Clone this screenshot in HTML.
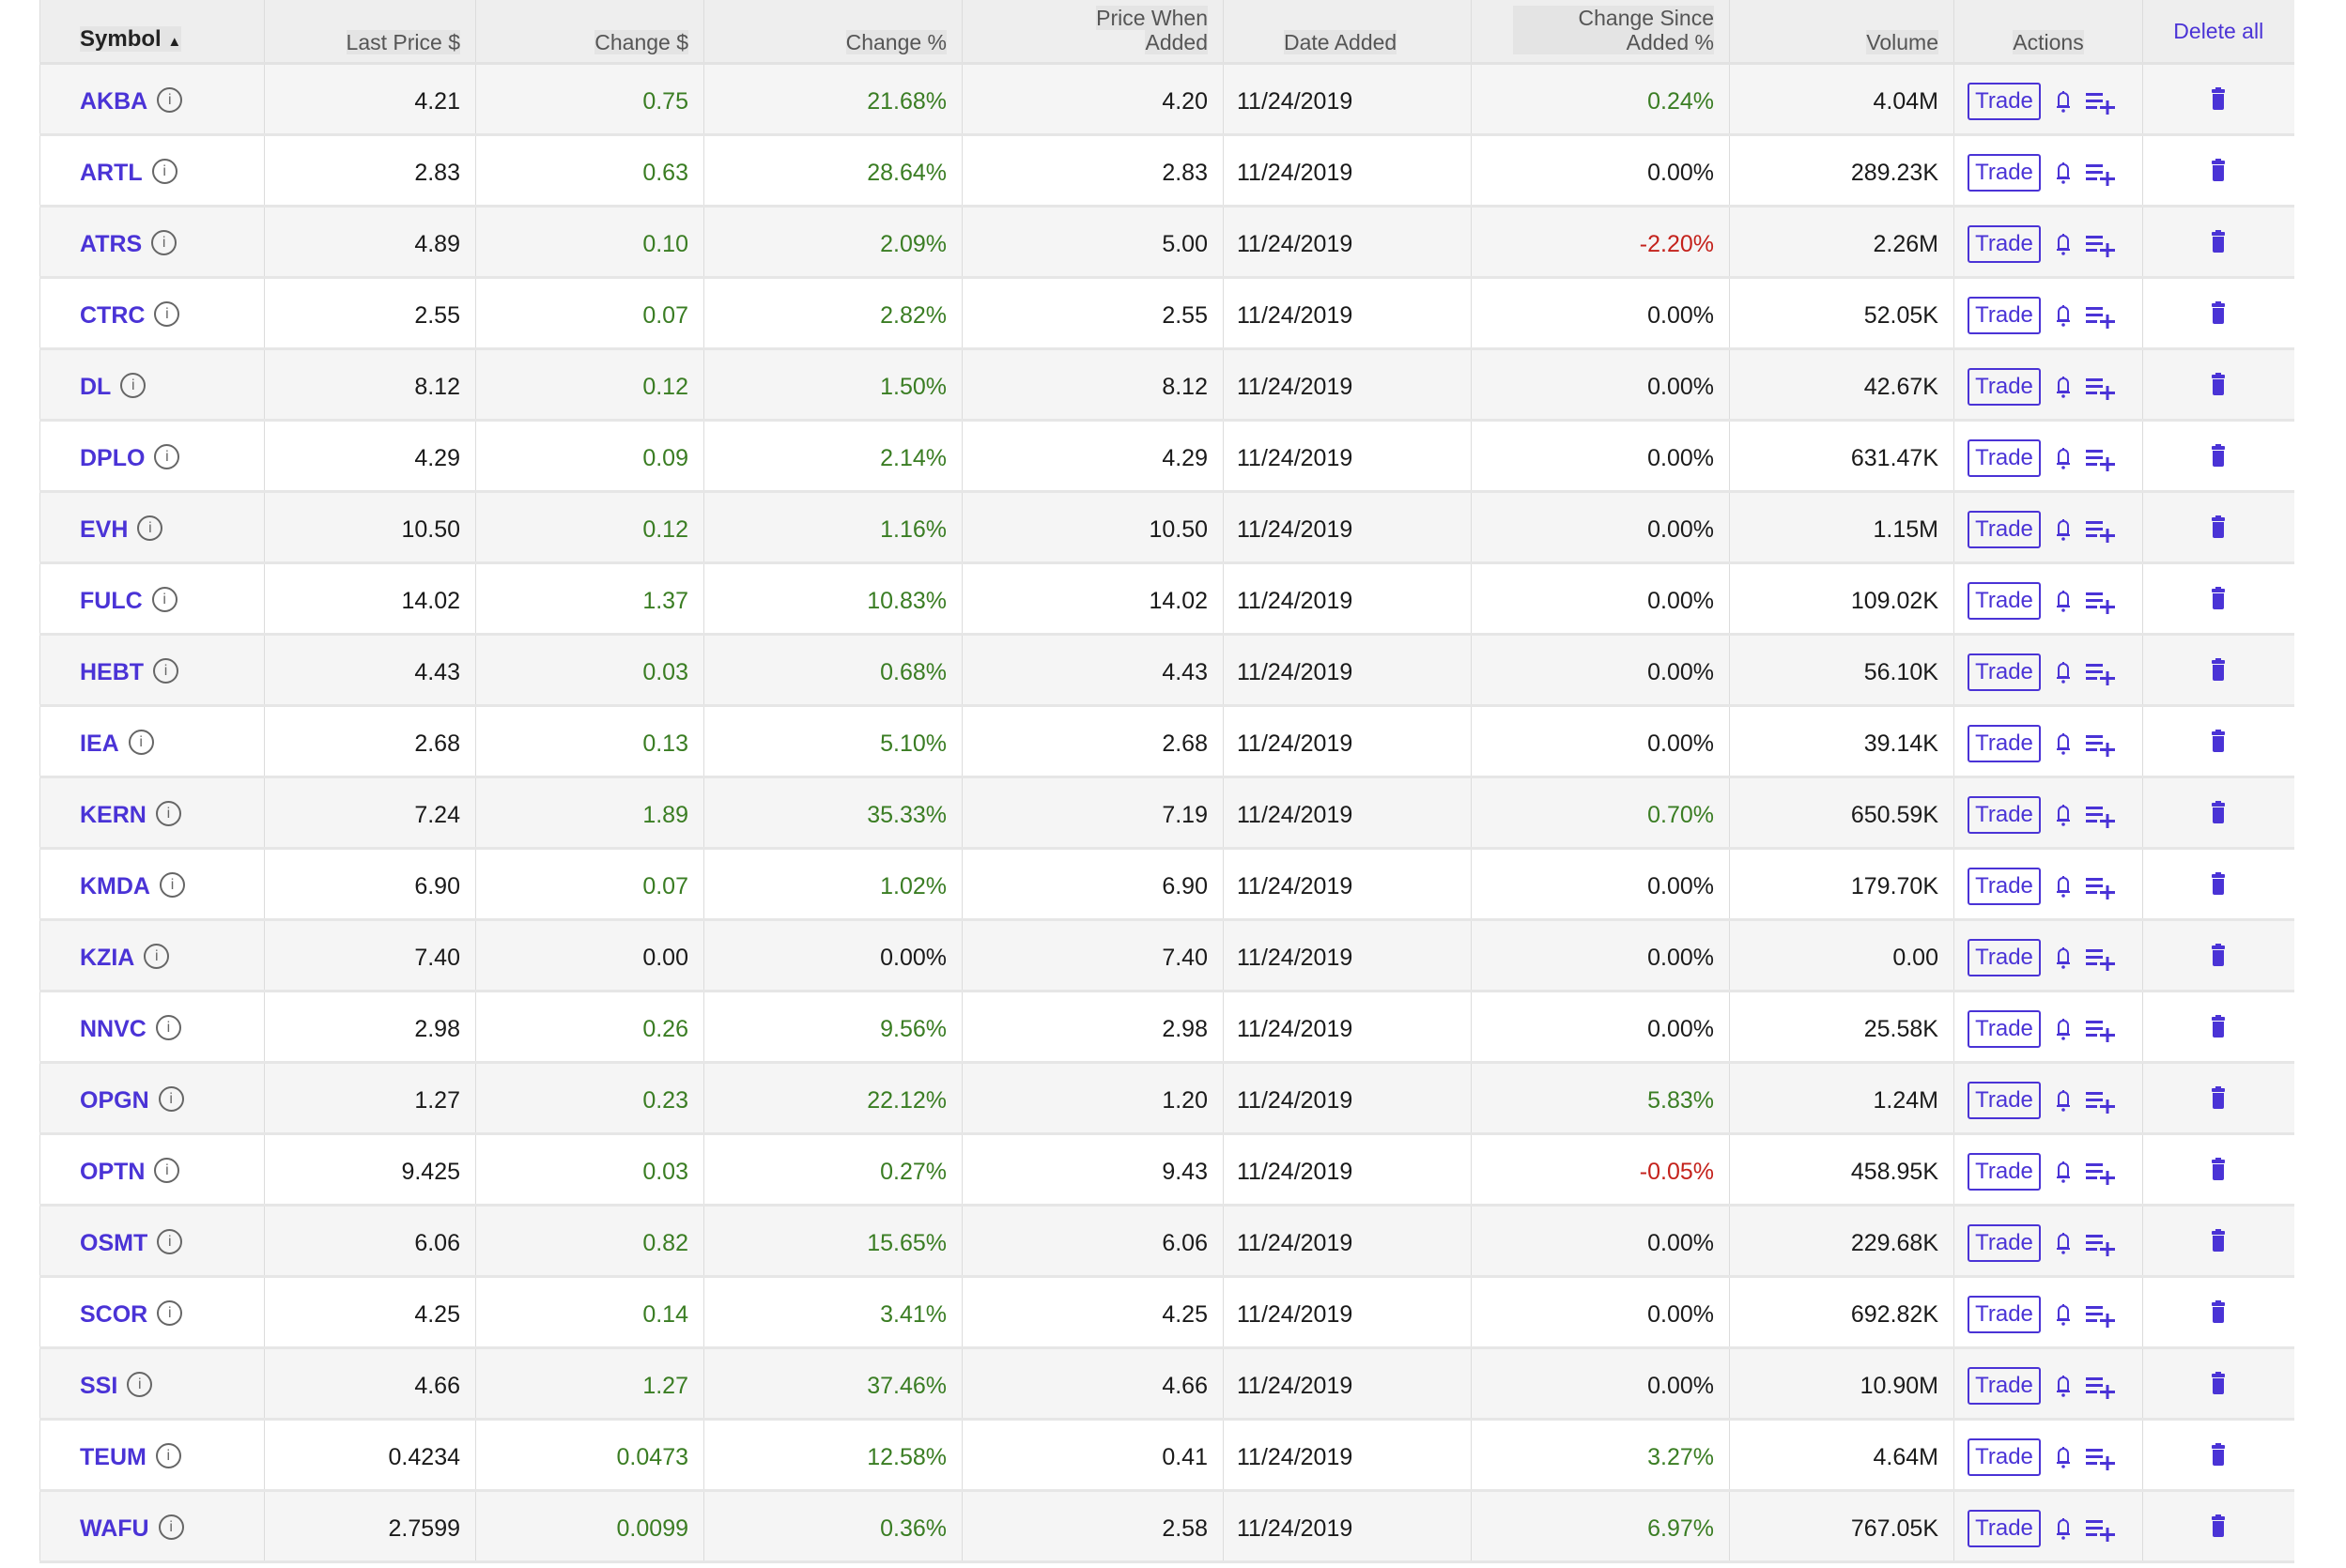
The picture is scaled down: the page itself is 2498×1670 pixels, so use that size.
<!DOCTYPE html>
<html><head><meta charset="utf-8"><style>
html,body{margin:0;padding:0;background:#fff;width:2498px;height:1670px;overflow:hidden}
body{font-family:"Liberation Sans",sans-serif;color:#1a1a1a}
table{position:absolute;left:42px;top:0;border-collapse:collapse;table-layout:fixed;width:2400px}
td,th{padding:0 16px;border-left:1px solid #dcdcdc;font-size:25px;white-space:nowrap;box-sizing:border-box}
th{background:#eeeeee;height:67px;font-weight:normal;color:#555;font-size:23px;text-align:right;vertical-align:bottom;padding-bottom:8px;padding-top:0;line-height:26px}
th span{background:#e4e4e4}
th.sym{text-align:left;padding-left:42px;color:#222;font-weight:bold;font-size:24px}
thead tr{border-bottom:3px solid #e2e2e2}
tbody tr{height:76px;border-bottom:3px solid #e6e6e6}
tbody td{height:76px;padding-top:6px}
tbody tr:nth-child(odd){background:#f5f5f5}
td{text-align:right}
td.s{text-align:left;padding-left:42px;color:#4a33d6;font-weight:bold}
td.d{text-align:left;padding-left:14px}
.g{color:#3a7d23}.r{color:#c4221c}
.i{display:inline-block;width:23px;height:23px;border:2px solid #666;border-radius:50%;font-size:16px;line-height:23px;text-align:center;color:#666;font-weight:normal;margin-left:10px;vertical-align:middle;margin-top:-4px}
.a{text-align:left;padding-left:14px}
.t{display:inline-block;width:74px;height:36px;border:2px solid #4a33d6;border-radius:3px;color:#4a33d6;text-align:center;line-height:36px;font-size:24px;vertical-align:middle}
.b{display:inline-block;vertical-align:middle;margin-left:14px}
.q{display:inline-block;vertical-align:middle;margin-left:12px}
td.x{text-align:center}
</style></head><body>
<svg width="0" height="0" style="position:absolute"><defs>
<symbol id="bell" viewBox="0 0 20 30"><path d="M5 20 V11 a5 5 0 0 1 10 0 V20 Z M3 21 H17" fill="none" stroke="#4a33d6" stroke-width="2"/><circle cx="10" cy="25" r="1.8" fill="#4a33d6"/><rect x="9" y="4" width="2" height="3" fill="#4a33d6"/></symbol>
<symbol id="ql" viewBox="0 0 36 30"><rect x="2" y="6" width="18" height="3" fill="#4a33d6"/><rect x="2" y="13" width="18" height="3" fill="#4a33d6"/><rect x="2" y="20" width="12" height="3" fill="#4a33d6"/><rect x="17" y="20" width="16" height="3" fill="#4a33d6"/><rect x="23.5" y="14" width="3" height="15" fill="#4a33d6"/></symbol>
<symbol id="tr" viewBox="0 0 20 30"><rect x="3" y="5" width="14" height="4" rx="1" fill="#4a33d6"/><rect x="7" y="3" width="6" height="3" fill="#4a33d6"/><path d="M4 10 H16 V25 a2 2 0 0 1 -2 2 H6 a2 2 0 0 1 -2 -2 Z" fill="#4a33d6"/></symbol>
</defs></svg>
<table>
<colgroup><col style="width:239px"><col style="width:225px"><col style="width:243px"><col style="width:275px"><col style="width:278px"><col style="width:264px"><col style="width:275px"><col style="width:239px"><col style="width:201px"><col style="width:161px"></colgroup>
<thead><tr>
<th class="sym"><span>Symbol&nbsp;<span style="font-size:15px">▲</span></span></th>
<th><span>Last Price $</span></th><th><span>Change $</span></th><th><span>Change %</span></th>
<th><span>Price When<br>Added</span></th>
<th style="text-align:left;padding-left:64px"><span>Date Added</span></th>
<th><span style="display:inline-block;padding-left:70px">Change Since<br>Added %</span></th>
<th><span>Volume</span></th>
<th style="text-align:center"><span>Actions</span></th>
<th style="text-align:center;vertical-align:top;padding-top:20px;color:#4a33d6">Delete all</th>
</tr></thead>
<tbody>
<tr><td class="s">AKBA<span class="i">i</span></td><td>4.21</td><td class="g">0.75</td><td class="g">21.68%</td><td>4.20</td><td class="d">11/24/2019</td><td class="g">0.24%</td><td>4.04M</td><td class="a"><span class="t">Trade</span><svg class="b" width="20" height="30"><use href="#bell"/></svg><svg class="q" width="36" height="30"><use href="#ql"/></svg></td><td class="x"><svg width="20" height="30"><use href="#tr"/></svg></td></tr>
<tr><td class="s">ARTL<span class="i">i</span></td><td>2.83</td><td class="g">0.63</td><td class="g">28.64%</td><td>2.83</td><td class="d">11/24/2019</td><td>0.00%</td><td>289.23K</td><td class="a"><span class="t">Trade</span><svg class="b" width="20" height="30"><use href="#bell"/></svg><svg class="q" width="36" height="30"><use href="#ql"/></svg></td><td class="x"><svg width="20" height="30"><use href="#tr"/></svg></td></tr>
<tr><td class="s">ATRS<span class="i">i</span></td><td>4.89</td><td class="g">0.10</td><td class="g">2.09%</td><td>5.00</td><td class="d">11/24/2019</td><td class="r">-2.20%</td><td>2.26M</td><td class="a"><span class="t">Trade</span><svg class="b" width="20" height="30"><use href="#bell"/></svg><svg class="q" width="36" height="30"><use href="#ql"/></svg></td><td class="x"><svg width="20" height="30"><use href="#tr"/></svg></td></tr>
<tr><td class="s">CTRC<span class="i">i</span></td><td>2.55</td><td class="g">0.07</td><td class="g">2.82%</td><td>2.55</td><td class="d">11/24/2019</td><td>0.00%</td><td>52.05K</td><td class="a"><span class="t">Trade</span><svg class="b" width="20" height="30"><use href="#bell"/></svg><svg class="q" width="36" height="30"><use href="#ql"/></svg></td><td class="x"><svg width="20" height="30"><use href="#tr"/></svg></td></tr>
<tr><td class="s">DL<span class="i">i</span></td><td>8.12</td><td class="g">0.12</td><td class="g">1.50%</td><td>8.12</td><td class="d">11/24/2019</td><td>0.00%</td><td>42.67K</td><td class="a"><span class="t">Trade</span><svg class="b" width="20" height="30"><use href="#bell"/></svg><svg class="q" width="36" height="30"><use href="#ql"/></svg></td><td class="x"><svg width="20" height="30"><use href="#tr"/></svg></td></tr>
<tr><td class="s">DPLO<span class="i">i</span></td><td>4.29</td><td class="g">0.09</td><td class="g">2.14%</td><td>4.29</td><td class="d">11/24/2019</td><td>0.00%</td><td>631.47K</td><td class="a"><span class="t">Trade</span><svg class="b" width="20" height="30"><use href="#bell"/></svg><svg class="q" width="36" height="30"><use href="#ql"/></svg></td><td class="x"><svg width="20" height="30"><use href="#tr"/></svg></td></tr>
<tr><td class="s">EVH<span class="i">i</span></td><td>10.50</td><td class="g">0.12</td><td class="g">1.16%</td><td>10.50</td><td class="d">11/24/2019</td><td>0.00%</td><td>1.15M</td><td class="a"><span class="t">Trade</span><svg class="b" width="20" height="30"><use href="#bell"/></svg><svg class="q" width="36" height="30"><use href="#ql"/></svg></td><td class="x"><svg width="20" height="30"><use href="#tr"/></svg></td></tr>
<tr><td class="s">FULC<span class="i">i</span></td><td>14.02</td><td class="g">1.37</td><td class="g">10.83%</td><td>14.02</td><td class="d">11/24/2019</td><td>0.00%</td><td>109.02K</td><td class="a"><span class="t">Trade</span><svg class="b" width="20" height="30"><use href="#bell"/></svg><svg class="q" width="36" height="30"><use href="#ql"/></svg></td><td class="x"><svg width="20" height="30"><use href="#tr"/></svg></td></tr>
<tr><td class="s">HEBT<span class="i">i</span></td><td>4.43</td><td class="g">0.03</td><td class="g">0.68%</td><td>4.43</td><td class="d">11/24/2019</td><td>0.00%</td><td>56.10K</td><td class="a"><span class="t">Trade</span><svg class="b" width="20" height="30"><use href="#bell"/></svg><svg class="q" width="36" height="30"><use href="#ql"/></svg></td><td class="x"><svg width="20" height="30"><use href="#tr"/></svg></td></tr>
<tr><td class="s">IEA<span class="i">i</span></td><td>2.68</td><td class="g">0.13</td><td class="g">5.10%</td><td>2.68</td><td class="d">11/24/2019</td><td>0.00%</td><td>39.14K</td><td class="a"><span class="t">Trade</span><svg class="b" width="20" height="30"><use href="#bell"/></svg><svg class="q" width="36" height="30"><use href="#ql"/></svg></td><td class="x"><svg width="20" height="30"><use href="#tr"/></svg></td></tr>
<tr><td class="s">KERN<span class="i">i</span></td><td>7.24</td><td class="g">1.89</td><td class="g">35.33%</td><td>7.19</td><td class="d">11/24/2019</td><td class="g">0.70%</td><td>650.59K</td><td class="a"><span class="t">Trade</span><svg class="b" width="20" height="30"><use href="#bell"/></svg><svg class="q" width="36" height="30"><use href="#ql"/></svg></td><td class="x"><svg width="20" height="30"><use href="#tr"/></svg></td></tr>
<tr><td class="s">KMDA<span class="i">i</span></td><td>6.90</td><td class="g">0.07</td><td class="g">1.02%</td><td>6.90</td><td class="d">11/24/2019</td><td>0.00%</td><td>179.70K</td><td class="a"><span class="t">Trade</span><svg class="b" width="20" height="30"><use href="#bell"/></svg><svg class="q" width="36" height="30"><use href="#ql"/></svg></td><td class="x"><svg width="20" height="30"><use href="#tr"/></svg></td></tr>
<tr><td class="s">KZIA<span class="i">i</span></td><td>7.40</td><td>0.00</td><td>0.00%</td><td>7.40</td><td class="d">11/24/2019</td><td>0.00%</td><td>0.00</td><td class="a"><span class="t">Trade</span><svg class="b" width="20" height="30"><use href="#bell"/></svg><svg class="q" width="36" height="30"><use href="#ql"/></svg></td><td class="x"><svg width="20" height="30"><use href="#tr"/></svg></td></tr>
<tr><td class="s">NNVC<span class="i">i</span></td><td>2.98</td><td class="g">0.26</td><td class="g">9.56%</td><td>2.98</td><td class="d">11/24/2019</td><td>0.00%</td><td>25.58K</td><td class="a"><span class="t">Trade</span><svg class="b" width="20" height="30"><use href="#bell"/></svg><svg class="q" width="36" height="30"><use href="#ql"/></svg></td><td class="x"><svg width="20" height="30"><use href="#tr"/></svg></td></tr>
<tr><td class="s">OPGN<span class="i">i</span></td><td>1.27</td><td class="g">0.23</td><td class="g">22.12%</td><td>1.20</td><td class="d">11/24/2019</td><td class="g">5.83%</td><td>1.24M</td><td class="a"><span class="t">Trade</span><svg class="b" width="20" height="30"><use href="#bell"/></svg><svg class="q" width="36" height="30"><use href="#ql"/></svg></td><td class="x"><svg width="20" height="30"><use href="#tr"/></svg></td></tr>
<tr><td class="s">OPTN<span class="i">i</span></td><td>9.425</td><td class="g">0.03</td><td class="g">0.27%</td><td>9.43</td><td class="d">11/24/2019</td><td class="r">-0.05%</td><td>458.95K</td><td class="a"><span class="t">Trade</span><svg class="b" width="20" height="30"><use href="#bell"/></svg><svg class="q" width="36" height="30"><use href="#ql"/></svg></td><td class="x"><svg width="20" height="30"><use href="#tr"/></svg></td></tr>
<tr><td class="s">OSMT<span class="i">i</span></td><td>6.06</td><td class="g">0.82</td><td class="g">15.65%</td><td>6.06</td><td class="d">11/24/2019</td><td>0.00%</td><td>229.68K</td><td class="a"><span class="t">Trade</span><svg class="b" width="20" height="30"><use href="#bell"/></svg><svg class="q" width="36" height="30"><use href="#ql"/></svg></td><td class="x"><svg width="20" height="30"><use href="#tr"/></svg></td></tr>
<tr><td class="s">SCOR<span class="i">i</span></td><td>4.25</td><td class="g">0.14</td><td class="g">3.41%</td><td>4.25</td><td class="d">11/24/2019</td><td>0.00%</td><td>692.82K</td><td class="a"><span class="t">Trade</span><svg class="b" width="20" height="30"><use href="#bell"/></svg><svg class="q" width="36" height="30"><use href="#ql"/></svg></td><td class="x"><svg width="20" height="30"><use href="#tr"/></svg></td></tr>
<tr><td class="s">SSI<span class="i">i</span></td><td>4.66</td><td class="g">1.27</td><td class="g">37.46%</td><td>4.66</td><td class="d">11/24/2019</td><td>0.00%</td><td>10.90M</td><td class="a"><span class="t">Trade</span><svg class="b" width="20" height="30"><use href="#bell"/></svg><svg class="q" width="36" height="30"><use href="#ql"/></svg></td><td class="x"><svg width="20" height="30"><use href="#tr"/></svg></td></tr>
<tr><td class="s">TEUM<span class="i">i</span></td><td>0.4234</td><td class="g">0.0473</td><td class="g">12.58%</td><td>0.41</td><td class="d">11/24/2019</td><td class="g">3.27%</td><td>4.64M</td><td class="a"><span class="t">Trade</span><svg class="b" width="20" height="30"><use href="#bell"/></svg><svg class="q" width="36" height="30"><use href="#ql"/></svg></td><td class="x"><svg width="20" height="30"><use href="#tr"/></svg></td></tr>
<tr><td class="s">WAFU<span class="i">i</span></td><td>2.7599</td><td class="g">0.0099</td><td class="g">0.36%</td><td>2.58</td><td class="d">11/24/2019</td><td class="g">6.97%</td><td>767.05K</td><td class="a"><span class="t">Trade</span><svg class="b" width="20" height="30"><use href="#bell"/></svg><svg class="q" width="36" height="30"><use href="#ql"/></svg></td><td class="x"><svg width="20" height="30"><use href="#tr"/></svg></td></tr>
</tbody></table>
</body></html>
